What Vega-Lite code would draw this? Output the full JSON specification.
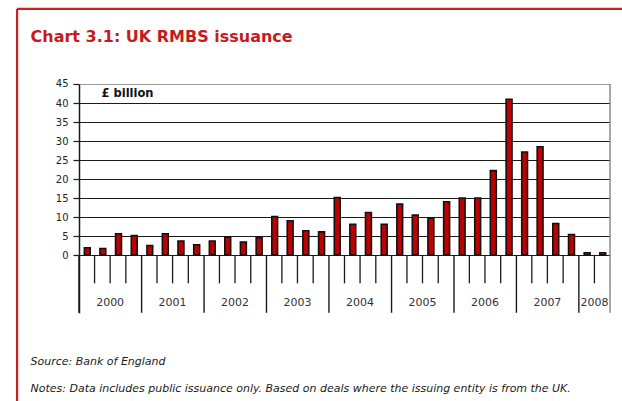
{
  "$schema": "https://vega.github.io/schema/vega-lite/v6.json",
  "width": 531,
  "height": 228.8,
  "autosize": {"type": "none"},
  "padding": {"left": 79, "top": 84, "right": 12, "bottom": 88},
  "background": "white",
  "config": {"view": {"stroke": null}, "font": "DejaVu Sans"},
  "resolve": {"axis": {"y": "independent"}},
  "data": {"values": [
    {"date": "2000-01-01", "year": "2000", "q": 1, "value": 1.9},
    {"date": "2000-04-01", "year": "2000", "q": 2, "value": 1.7},
    {"date": "2000-07-01", "year": "2000", "q": 3, "value": 5.6},
    {"date": "2000-10-01", "year": "2000", "q": 4, "value": 5.1},
    {"date": "2001-01-01", "year": "2001", "q": 1, "value": 2.5},
    {"date": "2001-04-01", "year": "2001", "q": 2, "value": 5.6},
    {"date": "2001-07-01", "year": "2001", "q": 3, "value": 3.7},
    {"date": "2001-10-01", "year": "2001", "q": 4, "value": 2.7},
    {"date": "2002-01-01", "year": "2002", "q": 1, "value": 3.7},
    {"date": "2002-04-01", "year": "2002", "q": 2, "value": 4.7},
    {"date": "2002-07-01", "year": "2002", "q": 3, "value": 3.4},
    {"date": "2002-10-01", "year": "2002", "q": 4, "value": 4.6},
    {"date": "2003-01-01", "year": "2003", "q": 1, "value": 10.1},
    {"date": "2003-04-01", "year": "2003", "q": 2, "value": 9.0},
    {"date": "2003-07-01", "year": "2003", "q": 3, "value": 6.4},
    {"date": "2003-10-01", "year": "2003", "q": 4, "value": 6.1},
    {"date": "2004-01-01", "year": "2004", "q": 1, "value": 15.1},
    {"date": "2004-04-01", "year": "2004", "q": 2, "value": 8.1},
    {"date": "2004-07-01", "year": "2004", "q": 3, "value": 11.2},
    {"date": "2004-10-01", "year": "2004", "q": 4, "value": 8.1},
    {"date": "2005-01-01", "year": "2005", "q": 1, "value": 13.4},
    {"date": "2005-04-01", "year": "2005", "q": 2, "value": 10.5},
    {"date": "2005-07-01", "year": "2005", "q": 3, "value": 9.7},
    {"date": "2005-10-01", "year": "2005", "q": 4, "value": 14.0},
    {"date": "2006-01-01", "year": "2006", "q": 1, "value": 15.0},
    {"date": "2006-04-01", "year": "2006", "q": 2, "value": 15.0},
    {"date": "2006-07-01", "year": "2006", "q": 3, "value": 22.2},
    {"date": "2006-10-01", "year": "2006", "q": 4, "value": 41.0},
    {"date": "2007-01-01", "year": "2007", "q": 1, "value": 27.1},
    {"date": "2007-04-01", "year": "2007", "q": 2, "value": 28.5},
    {"date": "2007-07-01", "year": "2007", "q": 3, "value": 8.3},
    {"date": "2007-10-01", "year": "2007", "q": 4, "value": 5.4},
    {"date": "2008-01-01", "year": "2008", "q": 1, "value": 0.6},
    {"date": "2008-04-01", "year": "2008", "q": 2, "value": 0.6}
  ]},
  "layer": [
    {
      "mark": {"type": "bar", "width": {"band": 0.44}, "fill": "#c00000", "stroke": "#111111", "strokeWidth": 1.6},
      "encoding": {
        "x": {"field": "date", "type": "temporal", "timeUnit": "utcyearquarter", "axis": null,
              "scale": {"type": "utc", "nice": false,
                        "domain": [{"year": 2000, "month": 1, "date": 1, "utc": true}, {"year": 2008, "month": 7, "date": 1, "utc": true}]}},
        "y": {"field": "value", "type": "quantitative",
              "scale": {"domain": [-15.2, 45], "nice": false, "zero": false},
              "axis": {"values": [0, 5, 10, 15, 20, 25, 30, 35, 40, 45], "labelOverlap": false, "orient": "left",
                       "title": "£ billion", "titleAngle": 0, "titleX": 22, "titleY": 10,
                       "titleAlign": "left", "titleBaseline": "middle", "titleFontSize": 11.5,
                       "titleFontWeight": "bold", "titleColor": "#111111", "titleFont": "DejaVu Sans",
                       "grid": true,
                       "gridColor": {"condition": {"test": "datum.value === 45", "value": "#9a9a9a"}, "value": "#1a1a1a"},
                       "gridWidth": 1.2, "domainColor": "#1a1a1a", "domainWidth": 1.5,
                       "tickColor": "#1a1a1a", "tickSize": 6, "tickWidth": 1.2,
                       "labelFontSize": 10, "labelColor": "#222222", "labelPadding": 5, "labelFont": "DejaVu Sans"}}
      }
    },
    {
      "transform": [{"filter": "datum.q != 1"}],
      "mark": {"type": "rule", "color": "#1a1a1a", "strokeWidth": 1.3},
      "encoding": {"x": {"field": "date", "type": "temporal"}, "y": {"datum": 0, "axis": null}, "y2": {"datum": -7.45}}
    },
    {
      "transform": [{"filter": "datum.q == 1"}],
      "mark": {"type": "rule", "color": "#1a1a1a", "strokeWidth": 1.4},
      "encoding": {"x": {"field": "date", "type": "temporal"}, "y": {"datum": 0, "axis": null}, "y2": {"datum": -15.2}}
    },
    {
      "transform": [{"filter": "datum.q == 3 || (datum.year == '2008' && datum.q == 2)"}],
      "mark": {"type": "text", "fontSize": 11, "color": "#333333", "baseline": "middle", "align": "center"},
      "encoding": {"x": {"field": "date", "type": "temporal"}, "y": {"datum": -12.7, "axis": null}, "text": {"field": "year", "type": "nominal"}}
    },
    {
      "data": {"values": [{"edge": "right"}]},
      "mark": {"type": "rule", "color": "#8c8c8c", "strokeWidth": 1.5},
      "encoding": {"x": {"datum": {"year": 2008, "month": 7, "date": 1, "utc": true}, "type": "temporal"}, "y": {"datum": 45, "axis": null}, "y2": {"datum": -15.2}}
    },
    {
      "data": {"values": [{"edge": "top"}]},
      "mark": {"type": "rule", "color": "#cc1f1f", "strokeWidth": 2.2},
      "encoding": {"x": {"datum": {"year": 1999, "month": 1, "date": 4, "utc": true}, "type": "temporal"},
                   "x2": {"datum": {"year": 2010, "month": 1, "date": 1, "utc": true}},
                   "y": {"datum": 64.74, "axis": null}}
    },
    {
      "data": {"values": [{"edge": "left"}]},
      "mark": {"type": "rule", "color": "#cc1f1f", "strokeWidth": 2.2},
      "encoding": {"x": {"datum": {"year": 1999, "month": 1, "date": 4, "utc": true}, "type": "temporal"},
                   "y": {"datum": 64.74, "axis": null}, "y2": {"datum": -45}}
    },
    {
      "data": {"values": [{"label": "Chart 3.1: UK RMBS issuance"}]},
      "mark": {"type": "text", "align": "left", "baseline": "alphabetic", "fontSize": 16, "fontWeight": "bold", "color": "#c8191e"},
      "encoding": {"x": {"datum": {"year": 1999, "month": 3, "date": 24, "utc": true}, "type": "temporal"},
                   "y": {"datum": 56.1, "axis": null}, "text": {"field": "label"}}
    },
    {
      "data": {"values": [{"label": "Source: Bank of England"}]},
      "mark": {"type": "text", "align": "left", "baseline": "middle", "fontSize": 11, "fontStyle": "italic", "color": "#1a1a1a"},
      "encoding": {"x": {"datum": {"year": 1999, "month": 3, "date": 24, "utc": true}, "type": "temporal"},
                   "y": {"datum": -28.2, "axis": null}, "text": {"field": "label"}}
    },
    {
      "data": {"values": [{"label": "Notes: Data includes public issuance only. Based on deals where the issuing entity is from the UK."}]},
      "mark": {"type": "text", "align": "left", "baseline": "middle", "fontSize": 11, "fontStyle": "italic", "color": "#1a1a1a"},
      "encoding": {"x": {"datum": {"year": 1999, "month": 3, "date": 24, "utc": true}, "type": "temporal"},
                   "y": {"datum": -35.3, "axis": null}, "text": {"field": "label"}}
    }
  ]
}
